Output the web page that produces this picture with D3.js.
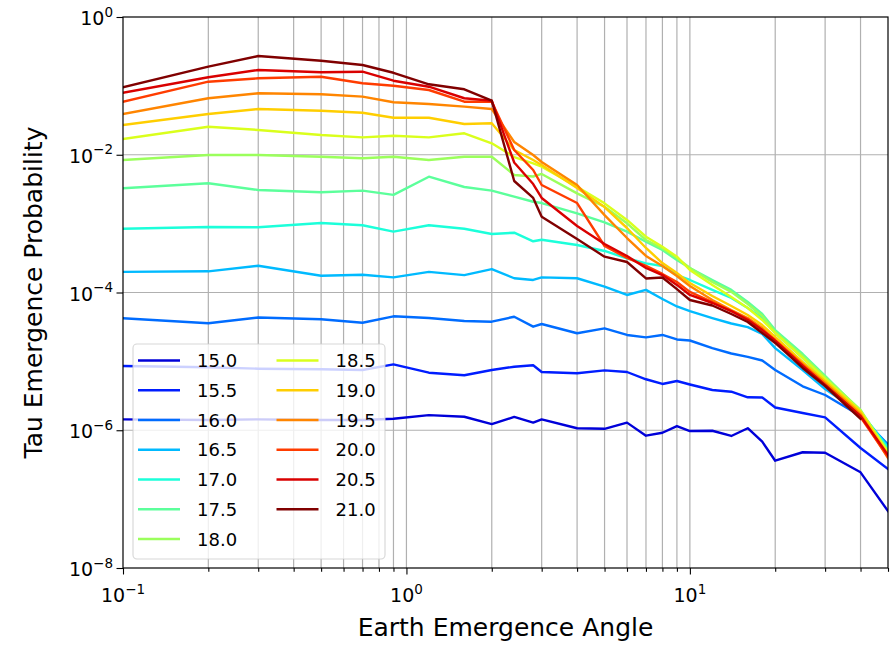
<!DOCTYPE html>
<html>
<head>
<meta charset="utf-8">
<script src="https://cdn.jsdelivr.net/npm/d3@7"></script>
<style>
  body { margin: 0; background: #fff; }
  text { font-family: "DejaVu Sans", sans-serif; fill: #000; }
</style>
</head>
<body>
<svg id="chart" width="896" height="646"></svg>
<script>
// Earth emergence angle (degrees) at which each curve is sampled
const angles = [0.1, 0.2, 0.3, 0.5, 0.7, 0.9, 1.2, 1.6, 2.0, 2.4, 2.8, 3.0, 4, 5, 6, 7, 8, 9, 10, 12, 14, 16, 18, 20, 25, 30, 40, 50];

// log10 of the neutrino energy for each curve
const energies = [15.0, 15.5, 16.0, 16.5, 17.0, 17.5, 18.0, 18.5, 19.0, 19.5, 20.0, 20.5, 21.0];

// Tau emergence probability, one array per energy
const p150 = [1.44e-6, 1.41e-6, 1.44e-6, 1.41e-6, 1.41e-6, 1.47e-6, 1.66e-6, 1.57e-6, 1.23e-6, 1.56e-6, 1.29e-6, 1.44e-6, 1.07e-6, 1.05e-6, 1.29e-6, 8.34e-7, 9.2e-7, 1.15e-6, 9.75e-7, 9.84e-7, 8.26e-7, 1.07e-6, 6.82e-7, 3.61e-7, 4.79e-7, 4.72e-7, 2.45e-7, 6.71e-8];
const p155 = [8.57e-6, 8.2e-6, 7.83e-6, 7.67e-6, 7.5e-6, 9.06e-6, 6.85e-6, 6.28e-6, 7.5e-6, 8.37e-6, 8.77e-6, 7.01e-6, 6.71e-6, 7.41e-6, 7.01e-6, 5.5e-6, 4.7e-6, 5.19e-6, 4.62e-6, 3.84e-6, 3.63e-6, 3.01e-6, 2.99e-6, 2.14e-6, 1.78e-6, 1.54e-6, 5.52e-7, 2.74e-7];
const p160 = [4.22e-5, 3.57e-5, 4.34e-5, 4.08e-5, 3.64e-5, 4.51e-5, 4.26e-5, 3.86e-5, 3.77e-5, 4.45e-5, 3.19e-5, 3.49e-5, 2.56e-5, 3.02e-5, 2.42e-5, 2.23e-5, 2.42e-5, 2.08e-5, 2.01e-5, 1.56e-5, 1.3e-5, 1.16e-5, 1.03e-5, 7.5e-6, 4.35e-6, 3.25e-6, 1.61e-6, 6.21e-7];
const p165 = [1.99e-4, 2.03e-4, 2.45e-4, 1.75e-4, 1.81e-4, 1.66e-4, 1.99e-4, 1.79e-4, 2.19e-4, 1.61e-4, 1.52e-4, 1.66e-4, 1.61e-4, 1.22e-4, 9.2e-5, 1.09e-4, 8.05e-5, 6.27e-5, 5.38e-5, 4.26e-5, 3.55e-5, 3.15e-5, 2.5e-5, 1.56e-5, 7.5e-6, 3.97e-6, 1.78e-6, 5.81e-7];
const p170 = [8.44e-4, 8.93e-4, 8.85e-4, 1.02e-3, 9.46e-4, 7.64e-4, 9.46e-4, 8.44e-4, 7.07e-4, 7.38e-4, 5.54e-4, 5.84e-4, 4.9e-4, 4.01e-4, 3.14e-4, 2.65e-4, 2.43e-4, 1.79e-4, 1.52e-4, 1.09e-4, 8.32e-5, 5.96e-5, 4.26e-5, 2.58e-5, 1.12e-5, 5.37e-6, 1.84e-6, 5.52e-7];
const p175 = [3.26e-3, 3.85e-3, 3.08e-3, 2.85e-3, 3.01e-3, 2.61e-3, 4.8e-3, 3.4e-3, 3.01e-3, 2.46e-3, 2.08e-3, 1.99e-3, 1.41e-3, 1.04e-3, 7.64e-4, 5.46e-4, 4.14e-4, 2.96e-4, 2.27e-4, 1.52e-4, 1.09e-4, 7.28e-5, 4.87e-5, 2.85e-5, 1.28e-5, 6.14e-6, 1.9e-6, 5.0e-7];
const p180 = [8.39e-3, 9.91e-3, 9.91e-3, 9.37e-3, 8.88e-3, 9.37e-3, 8.39e-3, 9.37e-3, 9.37e-3, 5.08e-3, 4.83e-3, 5.26e-3, 2.75e-3, 1.76e-3, 1.01e-3, 5.78e-4, 4.38e-4, 3.17e-4, 2.27e-4, 1.42e-4, 1.02e-4, 6.81e-5, 4.56e-5, 2.67e-5, 1.2e-5, 5.93e-6, 1.97e-6, 4.83e-7];
const p185 = [0.01694, 0.0255, 0.0229, 0.01935, 0.0179, 0.0189, 0.0179, 0.0205, 0.01467, 9.27e-3, 7.52e-3, 6.71e-3, 3.44e-3, 1.97e-3, 1.13e-3, 6.46e-4, 4.62e-4, 3.31e-4, 2.12e-4, 1.29e-4, 8.6e-5, 5.96e-5, 3.99e-5, 2.58e-5, 1.12e-5, 5.55e-6, 1.9e-6, 4.83e-7];
const p190 = [0.0270, 0.0391, 0.0462, 0.0436, 0.0408, 0.0345, 0.0345, 0.0280, 0.0286, 0.01172, 8.39e-3, 7.1e-3, 3.29e-3, 1.74e-3, 8.64e-4, 4.43e-4, 2.68e-4, 1.92e-4, 1.37e-4, 8.89e-5, 6.37e-5, 4.71e-5, 3.37e-5, 2.26e-5, 9.8e-6, 5.19e-6, 1.84e-6, 4.37e-7];
const p195 = [0.0391, 0.0661, 0.078, 0.0755, 0.0697, 0.0578, 0.0546, 0.0499, 0.0462, 0.01531, 9.91e-3, 7.85e-3, 3.64e-3, 1.33e-3, 6.18e-4, 3.39e-4, 2.43e-4, 1.74e-4, 1.24e-4, 7.79e-5, 5.57e-5, 4.26e-5, 3.05e-5, 2.04e-5, 9.16e-6, 4.85e-6, 1.72e-6, 3.95e-7];
const p200 = [0.0589, 0.115, 0.1288, 0.1359, 0.109, 0.1006, 0.0871, 0.0589, 0.0589, 0.01172, 6.01e-3, 3.64e-3, 1.99e-3, 4.73e-4, 3.17e-4, 2.43e-4, 1.86e-4, 1.42e-4, 1.02e-4, 7.28e-5, 5.38e-5, 4.12e-5, 2.85e-5, 2.04e-5, 8.85e-6, 4.54e-6, 1.56e-6, 4.09e-7];
const p205 = [0.0796, 0.1332, 0.170, 0.1575, 0.1606, 0.1189, 0.0973, 0.0661, 0.0609, 7.72e-3, 3.76e-3, 2.36e-3, 9.24e-4, 5.06e-4, 3.39e-4, 2.27e-4, 1.79e-4, 1.29e-4, 9.2e-5, 7.04e-5, 5.38e-5, 3.99e-5, 2.85e-5, 1.98e-5, 8.57e-6, 4.54e-6, 1.61e-6, 4.37e-7];
const p210 = [0.0953, 0.190, 0.2715, 0.232, 0.201, 0.155, 0.1054, 0.0892, 0.0609, 4.16e-3, 2.36e-3, 1.26e-3, 5.98e-4, 3.31e-4, 2.77e-4, 1.6e-4, 1.65e-4, 1.12e-4, 7.79e-5, 6.47e-5, 4.87e-5, 3.73e-5, 2.58e-5, 1.85e-5, 8.02e-6, 4.39e-6, 1.47e-6, null];

const probabilities = [p150, p155, p160, p165, p170, p175, p180, p185, p190, p195, p200, p205, p210];

// Axis tick values
const xMajorTicks = [0.1, 1, 10];
const xMinorTicks = [0.2, 0.3, 0.4, 0.5, 0.6, 0.7, 0.8, 0.9, 2, 3, 4, 5, 6, 7, 8, 9, 20, 30, 40, 50];
const yMajorTicks = [1, 1e-2, 1e-4, 1e-6, 1e-8];

// Jet colormap (piecewise linear, same anchors as the classic "jet")
function jet(t) {
  const seg = pts => {
    for (let i = 1; i < pts.length; i++) {
      if (t <= pts[i][0]) {
        const [x0, y0] = pts[i - 1], [x1, y1] = pts[i];
        return y0 + (y1 - y0) * (t - x0) / (x1 - x0);
      }
    }
    return pts[pts.length - 1][1];
  };
  const r = seg([[0, 0], [0.35, 0], [0.66, 1], [0.89, 1], [1, 0.5]]);
  const g = seg([[0, 0], [0.125, 0], [0.375, 1], [0.64, 1], [0.91, 0], [1, 0]]);
  const b = seg([[0, 0.5], [0.11, 1], [0.34, 1], [0.65, 0], [1, 0]]);
  return d3.rgb(r * 255, g * 255, b * 255).formatHex();
}
const colors = energies.map((e, i) => jet((i + 1) / energies.length));

const svg = d3.select("#chart");
const W = 896, H = 646;
const plot = { left: 123, top: 17, right: 888, bottom: 568 };

const x = d3.scaleLog().domain([0.1, 50]).range([plot.left, plot.right]);
const y = d3.scaleLog().domain([1e-8, 1]).range([plot.bottom, plot.top]);

svg.append("rect").attr("width", W).attr("height", H).attr("fill", "#fff");

// Grid
const grid = svg.append("g").attr("stroke", "#b0b0b0").attr("stroke-width", 1.2);
grid.selectAll("line.vx").data(xMajorTicks.concat(xMinorTicks).filter(v => v > 0.1 && v < 50))
  .join("line").attr("x1", d => x(d)).attr("x2", d => x(d))
  .attr("y1", plot.top).attr("y2", plot.bottom);
grid.selectAll("line.hy").data(yMajorTicks.filter(v => v < 1 && v > 1e-8))
  .join("line").attr("y1", d => y(d)).attr("y2", d => y(d))
  .attr("x1", plot.left).attr("x2", plot.right);

// Curves
svg.append("clipPath").attr("id", "plotclip").append("rect")
  .attr("x", plot.left).attr("y", plot.top)
  .attr("width", plot.right - plot.left).attr("height", plot.bottom - plot.top);

const line = d3.line()
  .defined(d => d.p != null && d.p > 0)
  .x(d => x(d.a)).y(d => y(d.p));

const curves = svg.append("g").attr("clip-path", "url(#plotclip)");
energies.forEach((e, i) => {
  const pts = angles.map((a, j) => ({ a, p: probabilities[i][j] }));
  curves.append("path").datum(pts)
    .attr("d", line)
    .attr("fill", "none")
    .attr("stroke", colors[i])
    .attr("stroke-width", 2.4)
    .attr("stroke-linejoin", "round")
    .attr("stroke-linecap", "square");
});

// Axes (ticks only; labels drawn below with superscripts)
const xAxisMajor = d3.axisBottom(x).tickValues(xMajorTicks).tickSize(6.5).tickFormat("");
const xAxisMinor = d3.axisBottom(x).tickValues(xMinorTicks).tickSize(3.8).tickFormat("");
const yAxisMajor = d3.axisLeft(y).tickValues(yMajorTicks).tickSize(6.5).tickFormat("");

function styleAxis(g) {
  g.select(".domain").remove();
  g.selectAll(".tick line").attr("stroke", "#000").attr("stroke-width", 1.1);
}
svg.append("g").attr("transform", `translate(0,${plot.bottom})`).call(xAxisMajor).call(styleAxis);
svg.append("g").attr("transform", `translate(0,${plot.bottom})`).call(xAxisMinor).call(styleAxis);
svg.append("g").attr("transform", `translate(${plot.left},0)`).call(yAxisMajor).call(styleAxis);

// Spines
svg.append("rect")
  .attr("x", plot.left).attr("y", plot.top)
  .attr("width", plot.right - plot.left).attr("height", plot.bottom - plot.top)
  .attr("fill", "none").attr("stroke", "#000").attr("stroke-width", 1.2);

// Power-of-ten tick labels
const tickFont = 19, supFont = 13.5;
function powLabel(sel, v) {
  const exp = Math.round(Math.log10(v));
  sel.append("tspan").text("10");
  sel.append("tspan").attr("dy", -8.5).attr("font-size", supFont)
    .text(exp < 0 ? "\u2212" + Math.abs(exp) : String(exp));
}
xMajorTicks.forEach(v => {
  const t = svg.append("text").attr("x", x(v)).attr("y", 602)
    .attr("text-anchor", "middle").attr("font-size", tickFont);
  powLabel(t, v);
});
yMajorTicks.forEach(v => {
  const t = svg.append("text").attr("x", plot.left - 10).attr("y", y(v) + 8)
    .attr("text-anchor", "end").attr("font-size", tickFont);
  powLabel(t, v);
});

// Axis titles
svg.append("text").attr("x", (plot.left + plot.right) / 2).attr("y", 636)
  .attr("text-anchor", "middle").attr("font-size", 25)
  .text("Earth Emergence Angle");
svg.append("text")
  .attr("transform", `translate(42,${(plot.top + plot.bottom) / 2}) rotate(-90)`)
  .attr("text-anchor", "middle").attr("font-size", 25)
  .text("Tau Emergence Probability");

// Legend (two columns, filled column by column)
const legend = svg.append("g");
const lg = { x: 133, y: 344, w: 252, h: 215, row: 29.75, firstRow: 16.5 };
legend.append("rect")
  .attr("x", lg.x).attr("y", lg.y).attr("width", lg.w).attr("height", lg.h)
  .attr("rx", 4).attr("fill", "#fff").attr("fill-opacity", 0.8)
  .attr("stroke", "#cccccc").attr("stroke-opacity", 0.8).attr("stroke-width", 1.1);
const perCol = Math.ceil(energies.length / 2);
energies.forEach((e, i) => {
  const col = Math.floor(i / perCol), row = i % perCol;
  const cx = lg.x + 5 + col * 138.5;
  const cy = lg.y + lg.firstRow + row * lg.row;
  legend.append("line").attr("x1", cx).attr("x2", cx + 42)
    .attr("y1", cy).attr("y2", cy)
    .attr("stroke", colors[i]).attr("stroke-width", 2.4);
  legend.append("text").attr("x", cx + 59).attr("y", cy + 6.5)
    .attr("font-size", 18).text(e.toFixed(1));
});
</script>
</body>
</html>
